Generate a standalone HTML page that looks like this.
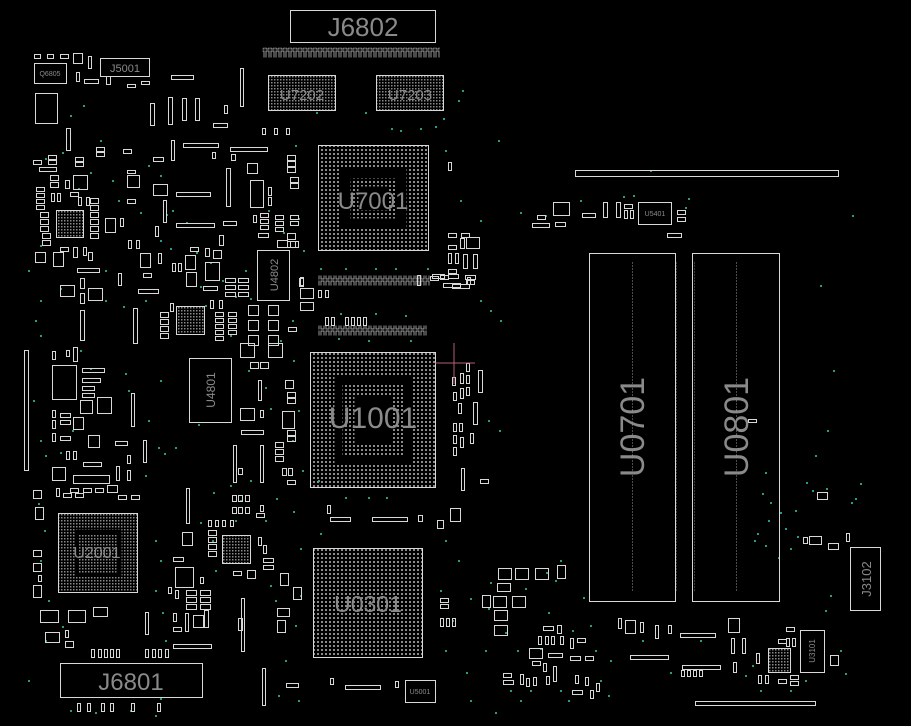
<!DOCTYPE html>
<html><head><meta charset="utf-8">
<style>
html,body{margin:0;padding:0;background:#000;width:911px;height:726px;overflow:hidden}
svg{display:block}
text{font-family:"Liberation Sans",sans-serif;fill:#8a8a8a}
</style></head><body>
<svg width="911" height="726" viewBox="0 0 911 726" xmlns="http://www.w3.org/2000/svg">
<defs>
<pattern id="bga" width="4" height="4" patternUnits="userSpaceOnUse"><rect x="0.5" y="0.5" width="2" height="2" fill="#8a8a8a"/></pattern>
<pattern id="bga3" width="3" height="3" patternUnits="userSpaceOnUse"><rect x="0.5" y="0.5" width="1.5" height="1.5" fill="#8a8a8a"/></pattern>
<pattern id="col" width="5" height="10" patternUnits="userSpaceOnUse"><rect x="0.5" y="0.5" width="3" height="8" fill="none" stroke="#bbb" stroke-width="0.8"/></pattern>
</defs>
<rect width="911" height="726" fill="#000"/>

<!-- green dots -->
<path fill="#2a9a88" d="
M45 158h2v2h-2zM62 152h2v2h-2zM78 188h2v2h-2zM90 172h2v2h-2zM70 115h2v2h-2zM83 105h2v2h-2zM100 140h2v2h-2zM105 270h2v2h-2zM112 180h2v2h-2zM118 200h2v2h-2zM140 212h2v2h-2zM148 165h2v2h-2zM160 240h2v2h-2zM166 214h2v2h-2zM170 248h2v2h-2zM186 222h2v2h-2zM196 252h2v2h-2zM200 286h2v2h-2zM210 262h2v2h-2zM222 280h2v2h-2zM245 270h2v2h-2zM250 298h2v2h-2zM268 210h2v2h-2zM283 232h2v2h-2zM294 160h2v2h-2zM298 218h2v2h-2zM303 250h2v2h-2zM280 340h2v2h-2zM292 320h2v2h-2zM145 300h2v2h-2zM123 306h2v2h-2zM60 288h2v2h-2zM40 300h2v2h-2zM35 320h2v2h-2zM28 270h2v2h-2zM40 245h2v2h-2zM160 175h2v2h-2zM172 210h2v2h-2zM205 305h2v2h-2zM230 335h2v2h-2zM235 296h2v2h-2zM105 300h2v2h-2zM80 350h2v2h-2zM90 368h2v2h-2zM125 373h2v2h-2zM128 390h2v2h-2zM148 420h2v2h-2zM158 447h2v2h-2zM164 453h2v2h-2zM145 475h2v2h-2zM175 447h2v2h-2zM198 424h2v2h-2zM160 380h2v2h-2zM72 430h2v2h-2zM60 452h2v2h-2zM45 455h2v2h-2zM38 503h2v2h-2zM44 530h2v2h-2zM40 560h2v2h-2zM48 600h2v2h-2zM62 626h2v2h-2zM45 640h2v2h-2zM155 540h2v2h-2zM160 560h2v2h-2zM155 590h2v2h-2zM162 612h2v2h-2zM165 640h2v2h-2zM200 522h2v2h-2zM212 540h2v2h-2zM215 570h2v2h-2zM235 520h2v2h-2zM265 520h2v2h-2zM270 585h2v2h-2zM275 600h2v2h-2zM300 595h2v2h-2zM295 625h2v2h-2zM285 660h2v2h-2zM298 700h2v2h-2zM278 695h2v2h-2zM160 698h2v2h-2zM70 710h2v2h-2zM95 712h2v2h-2zM130 710h2v2h-2zM155 715h2v2h-2zM28 680h2v2h-2zM213 492h2v2h-2zM230 485h2v2h-2zM250 480h2v2h-2zM240 500h2v2h-2zM276 498h2v2h-2zM293 511h2v2h-2zM300 548h2v2h-2zM248 370h2v2h-2zM265 387h2v2h-2zM293 360h2v2h-2zM298 410h2v2h-2zM270 408h2v2h-2zM292 440h2v2h-2zM302 470h2v2h-2zM318 480h2v2h-2zM345 497h2v2h-2zM368 497h2v2h-2zM386 497h2v2h-2zM320 533h2v2h-2zM445 540h2v2h-2zM458 560h2v2h-2zM440 590h2v2h-2zM452 620h2v2h-2zM445 650h2v2h-2zM466 672h2v2h-2zM485 650h2v2h-2zM470 700h2v2h-2zM495 712h2v2h-2zM510 690h2v2h-2zM520 700h2v2h-2zM560 690h2v2h-2zM600 680h2v2h-2zM610 660h2v2h-2zM525 588h2v2h-2zM490 582h2v2h-2zM488 608h2v2h-2zM470 598h2v2h-2zM546 572h2v2h-2zM560 560h2v2h-2zM548 612h2v2h-2zM572 630h2v2h-2zM590 625h2v2h-2zM595 650h2v2h-2zM540 648h2v2h-2zM642 640h2v2h-2zM670 672h2v2h-2zM700 640h2v2h-2zM745 675h2v2h-2zM752 665h2v2h-2zM760 690h2v2h-2zM790 690h2v2h-2zM805 680h2v2h-2zM840 650h2v2h-2zM845 673h2v2h-2zM825 610h2v2h-2zM830 595h2v2h-2zM754 540h2v2h-2zM765 472h2v2h-2zM762 493h2v2h-2zM757 533h2v2h-2zM770 502h2v2h-2zM768 520h2v2h-2zM780 512h2v2h-2zM785 528h2v2h-2zM795 510h2v2h-2zM790 548h2v2h-2zM778 557h2v2h-2zM812 490h2v2h-2zM815 455h2v2h-2zM806 482h2v2h-2zM851 502h2v2h-2zM860 483h2v2h-2zM855 498h2v2h-2zM826 488h2v2h-2zM765 545h2v2h-2zM797 536h2v2h-2zM827 430h2v2h-2zM833 370h2v2h-2zM820 285h2v2h-2zM852 215h2v2h-2zM498 140h2v2h-2zM458 100h2v2h-2zM462 90h2v2h-2zM443 118h2v2h-2zM480 300h2v2h-2zM490 310h2v2h-2zM500 320h2v2h-2zM488 420h2v2h-2zM499 430h2v2h-2zM460 200h2v2h-2zM480 220h2v2h-2zM520 212h2v2h-2zM545 215h2v2h-2zM580 200h2v2h-2zM623 196h2v2h-2zM633 195h2v2h-2zM688 198h2v2h-2zM685 207h2v2h-2zM650 170h2v2h-2zM316 112h2v2h-2zM365 112h2v2h-2zM391 128h2v2h-2zM400 130h2v2h-2zM420 128h2v2h-2zM435 126h2v2h-2zM295 145h2v2h-2zM445 150h2v2h-2zM320 268h2v2h-2zM345 268h2v2h-2zM375 268h2v2h-2zM395 268h2v2h-2zM427 268h2v2h-2zM340 313h2v2h-2zM375 313h2v2h-2zM405 315h2v2h-2zM338 338h2v2h-2zM368 340h2v2h-2zM410 340h2v2h-2zM555 580h2v2h-2zM583 597h2v2h-2zM505 632h2v2h-2zM517 650h2v2h-2zM530 690h2v2h-2zM568 700h2v2h-2zM608 695h2v2h-2zM40 335h2v2h-2zM33 400h2v2h-2zM40 440h2v2h-2z"/>

<g transform="translate(0.5,0.5)" fill="none" stroke="#d8d8d8" stroke-width="1">
<!-- J6802 -->
<rect x="290" y="10" width="145" height="32"/>
<rect x="262" y="47" width="178" height="10" fill="url(#col)" stroke="none"/>
<!-- U7202/U7203 -->
<rect x="268" y="75" width="67" height="35" fill="url(#bga3)"/>
<rect x="376" y="75" width="67" height="35" fill="url(#bga3)"/>
<!-- U7001 -->
<rect x="318" y="145" width="110" height="105" fill="url(#bga)"/>
<rect x="340" y="168" width="66" height="60" fill="#000" stroke="none"/>
<rect x="350" y="178" width="46" height="40" fill="url(#bga)" stroke="none"/>
<rect x="358" y="186" width="30" height="24" fill="#000" stroke="none"/>
<rect x="318" y="275" width="112" height="10" fill="url(#col)" stroke="none"/>
<rect x="318" y="325" width="108" height="10" fill="url(#col)" stroke="none"/>
<!-- U1001 -->
<rect x="310" y="352" width="125" height="135" fill="url(#bga)"/>
<rect x="334" y="376" width="78" height="88" fill="#000" stroke="none"/>
<rect x="342" y="384" width="62" height="72" fill="url(#bga)" stroke="none"/>
<rect x="354" y="396" width="38" height="48" fill="#000" stroke="none"/>
<!-- U0301 -->
<rect x="313" y="548" width="109" height="109" fill="url(#bga)"/>
<!-- U2001 -->
<rect x="58" y="513" width="79" height="79" fill="url(#bga3)"/>
<rect x="74" y="529" width="47" height="47" fill="#000" stroke="none"/>
<rect x="78" y="533" width="39" height="39" fill="url(#bga3)" stroke="none"/>
<!-- J6801 -->
<rect x="60" y="663" width="142" height="34"/>
<!-- DIMMs -->
<rect x="589" y="253" width="86" height="348"/>
<rect x="692" y="253" width="87" height="348"/>
<line x1="632" y1="262" x2="632" y2="592" stroke="#999" stroke-dasharray="1 2"/>
<line x1="736" y1="262" x2="736" y2="592" stroke="#999" stroke-dasharray="1 2"/>
<line x1="676" y1="262" x2="676" y2="592" stroke="#777" stroke-dasharray="1 2"/>
<line x1="694" y1="262" x2="694" y2="592" stroke="#777" stroke-dasharray="1 2"/>
<rect x="575" y="170" width="263" height="6"/>
<rect x="850" y="547" width="30" height="63"/>
<rect x="189" y="358" width="42" height="64"/>
<rect x="257" y="250" width="32" height="50"/>
<rect x="100" y="58" width="49" height="18"/>
<rect x="34" y="63" width="32" height="20"/>
<rect x="35" y="93" width="22" height="30"/>
<rect x="638" y="202" width="33" height="22"/>
<rect x="405" y="680" width="30" height="22"/>
<rect x="800" y="630" width="24" height="42"/>
<rect x="52" y="365" width="24" height="34"/>
<rect x="176" y="306" width="28" height="28" fill="url(#bga3)"/>
<rect x="222" y="535" width="28" height="28" fill="url(#bga3)"/>
<rect x="56" y="210" width="27" height="27" fill="url(#bga3)"/>
<rect x="768" y="648" width="22" height="24" fill="url(#bga3)"/>
<rect x="175" y="567" width="18" height="20"/>
<rect x="73" y="475" width="36" height="8"/>
<rect x="24" y="350" width="4" height="120"/>
<rect x="695" y="701" width="120" height="4"/>
<rect x="250" y="180" width="13" height="27"/>

<!-- small parts -->
<path d="
M34 54h6v4h-6zM47 54h6v4h-6zM60 54h8v4h-8zM73 53h9v10h-9zM88 56h3v12h-3zM76 72h3v9h-3zM84 79h14v4h-14zM106 76h4v8h-4zM127 84h8v3h-8zM141 81h8v3h-8z
M171 75h22v4h-22zM240 68h3v38h-3zM150 103h4v22h-4zM168 97h4v27h-4zM182 98h4v22h-4zM195 98h4v22h-4zM224 105h3v8h-3zM213 123h14v4h-14z
M262 128h3v6h-3zM274 128h3v6h-3zM286 128h3v6h-3zM183 143h35v4h-35zM171 140h3v20h-3zM230 147h37v4h-37zM153 157h10v4h-10zM212 152h3v6h-3zM231 154h4v6h-4z
M66 128h4v22h-4zM96 147h8v4h-8zM96 152h8v4h-8zM123 149h8v4h-8zM33 160h8v4h-8zM48 155h8v4h-8zM48 160h8v4h-8zM39 167h17v4h-17zM75 157h8v4h-8zM75 162h8v4h-8z
M73 175h14v14h-14zM127 175h12v12h-12zM127 170h8v3h-8zM127 199h8v4h-8zM153 184h14v11h-14zM176 192h34v4h-34zM163 200h3v22h-3zM176 223h38v4h-38zM223 221h13v4h-13z
M226 168h4v38h-4zM247 163h10v10h-10zM268 187h3v8h-3zM268 197h3v8h-3zM287 155h8v5h-8zM287 161h8v5h-8zM287 167h8v5h-8zM290 177h8v5h-8zM290 183h8v5h-8z
M36 187h8v4h-8zM36 193h8v4h-8zM36 199h8v4h-8zM36 205h8v4h-8zM50 175h8v5h-8zM50 182h8v5h-8zM51 193h3v8h-3zM57 193h3v8h-3zM65 180h4v8h-4zM70 192h8v4h-8zM78 197h3v8h-3zM86 197h3v8h-3z
M90 198h8v5h-8zM90 205h8v5h-8zM90 212h8v5h-8zM90 219h8v5h-8zM90 226h8v5h-8zM90 233h8v5h-8zM105 218h10v14h-10zM120 218h3v8h-3z
M40 212h8v5h-8zM40 219h8v5h-8zM40 226h8v5h-8zM42 233h8v5h-8zM42 240h8v5h-8zM35 252h10v10h-10zM53 252h10v14h-10zM60 247h8v4h-8zM73 247h4v10h-4zM83 247h3v8h-3zM88 252h4v8h-4z
M77 268h22v4h-22zM80 278h4v10h-4zM80 293h4v10h-4zM60 285h14v11h-14zM88 288h14v12h-14zM80 310h4v30h-4zM133 308h4v35h-4zM118 273h3v12h-3zM128 240h3v8h-3zM136 240h3v8h-3z
M140 253h10v14h-10zM158 253h3v10h-3zM143 273h8v4h-8zM138 289h20v4h-20zM155 226h3v10h-3zM170 303h3v8h-3zM160 312h8v5h-8zM160 319h8v5h-8zM160 326h8v5h-8zM160 333h8v5h-8z
M185 255h10v14h-10zM186 272h10v14h-10zM172 263h3v8h-3zM178 263h3v8h-3zM190 247h8v4h-8zM205 248h4v8h-4zM213 250h8v8h-8zM205 262h14v18h-14zM203 286h14v4h-14zM210 300h3v8h-3zM219 300h3v8h-3z
M225 278h10v4h-10zM225 285h10v4h-10zM225 292h10v4h-10zM238 278h10v4h-10zM238 285h10v4h-10zM238 292h10v4h-10zM219 235h4v10h-4z
M215 312h8v4h-8zM215 318h8v4h-8zM215 324h8v4h-8zM215 330h8v4h-8zM215 336h8v4h-8zM228 312h8v4h-8zM228 318h8v4h-8zM228 324h8v4h-8zM228 330h8v4h-8z
M248 305h10v10h-10zM268 305h10v10h-10zM248 320h10v10h-10zM268 320h10v10h-10zM248 335h10v10h-10zM268 335h10v10h-10zM287 233h8v6h-8zM287 241h8v6h-8zM288 327h8v4h-8zM299 278h4v8h-4z
M253 215h3v7h-3zM260 213h8v4h-8zM260 219h8v4h-8zM260 225h8v4h-8zM258 233h10v4h-10zM275 215h8v4h-8zM275 221h8v4h-8zM275 227h8v4h-8zM290 215h8v4h-8zM290 221h8v4h-8zM277 240h10v7h-10zM290 241h8v6h-8z
M300 277h3v8h-3zM300 288h13v10h-13zM300 302h13v8h-13zM318 290h3v7h-3zM325 290h3v7h-3zM448 162h3v8h-3z
M325 317h3v8h-3zM331 317h3v8h-3zM345 317h3v8h-3zM351 317h3v8h-3zM357 317h3v8h-3zM363 317h3v8h-3z
M417 275h3v10h-3zM430 276h8v4h-8zM440 275h8v4h-8zM452 284h17v4h-17zM467 277h3v7h-3z
M52 351h3v8h-3zM66 350h3v6h-3zM73 347h4v14h-4zM82 368h22v4h-22zM82 378h18v4h-18zM82 386h12v4h-12zM82 393h12v4h-12zM80 400h12v13h-12zM97 397h14v16h-14z
M52 410h3v7h-3zM52 420h3v8h-3zM52 433h3v8h-3zM60 413h10v4h-10zM60 420h10v4h-10zM60 436h10v4h-10zM73 417h10v12h-10zM88 435h11v12h-11zM66 451h3v8h-3zM73 451h3v8h-3zM115 441h12v4h-12z
M131 393h3v33h-3zM143 440h3v22h-3zM127 455h3v8h-3zM127 470h3v10h-3zM83 462h18v4h-18zM52 467h13v13h-13zM116 466h3v14h-3z
M56 488h3v8h-3zM63 493h8v4h-8zM70 488h8v4h-8zM75 493h8v4h-8zM83 488h8v4h-8zM95 488h8v4h-8zM107 485h10v7h-10zM118 495h8v4h-8zM131 495h8v4h-8zM33 490h8v8h-8zM35 507h8v12h-8z
M186 488h3v35h-3zM182 532h10v13h-10zM173 557h10v4h-10zM200 577h3v6h-3zM168 587h3v6h-3zM175 590h3v8h-3zM186 590h10v5h-10zM186 597h10v5h-10zM186 604h10v5h-10zM200 590h10v5h-10zM200 597h10v5h-10zM200 604h10v5h-10z
M173 613h3v8h-3zM173 627h8v4h-8zM185 613h3v18h-3zM193 615h10v12h-10zM204 610h4v17h-4zM145 612h3v22h-3zM173 644h38v4h-38z
M232 495h4v6h-4zM238 495h4v6h-4zM245 495h4v6h-4zM232 507h4v6h-4zM238 507h4v6h-4zM245 507h4v6h-4zM260 505h3v6h-3zM256 513h8v4h-8zM208 520h3v6h-3zM215 520h3v6h-3zM222 520h3v6h-3zM230 520h3v6h-3z
M208 530h8v5h-8zM208 537h8v5h-8zM208 544h8v5h-8zM208 551h8v5h-8zM233 571h8v4h-8zM247 570h8v8h-8zM258 537h3v8h-3zM263 545h3v8h-3zM263 558h10v4h-10zM263 565h10v4h-10z
M258 380h3v20h-3zM240 408h14v12h-14zM260 410h3v7h-3zM241 430h22v4h-22zM233 445h3v37h-3zM260 445h3v37h-3zM238 468h4v6h-4z
M285 380h8v8h-8zM287 392h8v5h-8zM287 398h8v5h-8zM282 411h12v17h-12zM287 430h8v5h-8zM287 436h8v5h-8zM275 442h8v5h-8zM275 449h8v5h-8zM275 456h8v5h-8zM282 468h4v7h-4zM288 468h4v7h-4zM287 480h8v4h-8z
M240 343h14v14h-14zM268 343h14v14h-14zM250 362h8v6h-8zM260 362h8v6h-8zM280 573h8v12h-8zM293 587h8v12h-8zM277 608h12v8h-12zM277 620h8v12h-8zM241 598h3v53h-3zM238 618h4v12h-4zM262 668h3v37h-3zM286 683h12v4h-12z
M40 610h18v12h-18zM68 610h17v12h-17zM93 607h14v9h-14zM45 632h14v10h-14zM65 630h3v7h-3zM65 641h8v6h-8z
M91 649h3v8h-3zM98 649h3v8h-3zM104 649h3v8h-3zM110 649h3v8h-3zM116 649h3v8h-3zM145 649h3v8h-3zM152 649h3v8h-3zM158 649h3v8h-3zM165 649h3v8h-3z
M33 550h8v6h-8zM33 563h8v8h-8zM38 575h3v6h-3zM33 585h8v12h-8zM77 703h3v8h-3zM87 703h3v8h-3zM101 703h3v8h-3zM110 703h3v8h-3zM131 703h3v8h-3zM157 703h3v8h-3z
M498 568h13v11h-13zM515 568h13v11h-13zM535 568h13v11h-13zM557 565h8v13h-8zM497 583h13v8h-13zM482 595h8v12h-8zM493 596h13v11h-13zM512 596h13v11h-13zM494 610h13v10h-13zM494 625h13v10h-13z
M440 598h8v4h-8zM440 604h8v4h-8zM440 618h3v8h-3zM446 618h3v8h-3zM452 618h3v8h-3zM543 626h10v4h-10zM557 625h4v8h-4zM538 636h3v8h-3zM545 636h3v8h-3zM551 636h3v8h-3zM560 636h3v8h-3zM570 638h3v10h-3zM577 638h8v4h-8z
M529 648h13v10h-13zM548 653h14v4h-14zM570 656h10v4h-10zM585 656h8v4h-8zM532 661h8v4h-8zM543 663h3v8h-3zM553 666h3v15h-3zM503 673h8v4h-8zM503 680h10v4h-10zM520 674h3v10h-3zM526 678h3v8h-3zM533 677h3v8h-3zM546 676h3v8h-3z
M575 675h3v8h-3zM585 677h3v8h-3zM572 690h10v4h-10zM590 690h3v8h-3zM596 683h3v8h-3zM618 618h3v10h-3zM625 620h10v13h-10zM640 622h3v10h-3zM655 625h3v13h-3zM668 625h3v8h-3z
M680 633h35v4h-35zM630 655h38v4h-38zM682 665h38v4h-38zM681 670h3v6h-3zM687 670h3v6h-3zM693 670h3v6h-3zM699 670h3v6h-3zM728 618h11v14h-11zM731 638h3v15h-3zM742 638h3v15h-3zM733 662h3v10h-3zM756 653h3v10h-3z
M786 627h8v4h-8zM778 639h8v4h-8zM786 638h3v8h-3zM792 638h3v8h-3zM758 675h3v8h-3zM765 675h3v8h-3zM778 679h8v4h-8zM790 675h8v4h-8zM790 681h8v4h-8zM830 655h8v10h-8z
M803 537h4v6h-4zM809 536h12v8h-12zM828 543h10v6h-10zM846 533h3v8h-3zM817 492h10v7h-10zM748 419h8v3h-8z
M448 233h8v4h-8zM461 233h8v4h-8zM448 245h8v4h-8zM460 238h4v10h-4zM466 237h13v11h-13zM448 253h3v10h-3zM455 253h3v10h-3zM463 254h4v14h-4zM473 254h4v14h-4zM448 269h8v4h-8zM432 274h12v4h-12zM448 274h10v4h-10zM465 275h10v4h-10zM466 280h8v4h-8zM443 283h17v4h-17z
M553 202h16v13h-16zM537 215h8v4h-8zM532 223h17v4h-17zM555 222h10v4h-10zM582 213h13v4h-13zM603 202h4v15h-4zM616 202h4v15h-4zM624 210h3v8h-3zM630 210h3v8h-3zM624 204h8v4h-8zM677 210h8v4h-8zM677 217h8v4h-8zM667 233h14v4h-14z
M466 363h3v8h-3zM452 377h3v8h-3zM460 373h3v10h-3zM466 375h3v8h-3zM478 370h4v22h-4zM453 392h3v8h-3zM460 388h3v10h-3zM466 387h3v8h-3zM458 403h3v10h-3zM473 402h4v22h-4zM453 423h3v8h-3zM459 423h3v8h-3zM453 435h3v8h-3zM460 437h3v10h-3zM470 433h3v10h-3zM453 447h3v8h-3zM461 468h3v22h-3zM480 479h8v4h-8zM450 508h10v13h-10zM437 520h6v8h-6z
M330 517h20v4h-20zM372 517h35v4h-35zM418 515h4v6h-4zM327 505h3v8h-3zM345 685h35v4h-35zM330 678h3v6h-3zM395 681h3v6h-3z
"/>
</g>
<line x1="454" y1="343" x2="454" y2="384" stroke="#b06070" stroke-width="1"/>
<line x1="435" y1="363" x2="475" y2="363" stroke="#b06070" stroke-width="1"/>
<g>
<text x="363" y="36" font-size="26" text-anchor="middle">J6802</text>
<text x="302" y="100" font-size="15" text-anchor="middle">U7202</text>
<text x="410" y="100" font-size="15" text-anchor="middle">U7203</text>
<text x="373" y="209" font-size="24" text-anchor="middle" fill="#aaa">U7001</text>
<text x="373" y="428" font-size="30" text-anchor="middle" fill="#bbb">U1001</text>
<text x="368" y="612" font-size="23" text-anchor="middle" fill="#bbb">U0301</text>
<text x="97" y="558" font-size="16" text-anchor="middle" fill="#aaa">U2001</text>
<text x="131" y="690" font-size="24" text-anchor="middle" fill="#aaa">J6801</text>
<text x="125" y="72" font-size="11" text-anchor="middle" fill="#bbb">J5001</text>
<text transform="translate(644,427) rotate(-90)" font-size="34" text-anchor="middle" fill="#777">U0701</text>
<text transform="translate(748,427) rotate(-90)" font-size="34" text-anchor="middle" fill="#777">U0801</text>
<text transform="translate(871,579) rotate(-90)" font-size="13" text-anchor="middle" fill="#aaa">J3102</text>
<text transform="translate(215,390) rotate(-90)" font-size="12" text-anchor="middle" fill="#aaa">U4801</text>
<text transform="translate(278,275) rotate(-90)" font-size="11" text-anchor="middle" fill="#aaa">U4802</text>
<text x="50" y="76" font-size="7" text-anchor="middle" fill="#aaa">Q6805</text>
<text x="655" y="216" font-size="7" text-anchor="middle" fill="#aaa">U5401</text>
<text x="420" y="694" font-size="7" text-anchor="middle" fill="#aaa">U5001</text>
<text transform="translate(815,651) rotate(-90)" font-size="8" text-anchor="middle" fill="#aaa">U3101</text>
</g>
</svg>
</body></html>
